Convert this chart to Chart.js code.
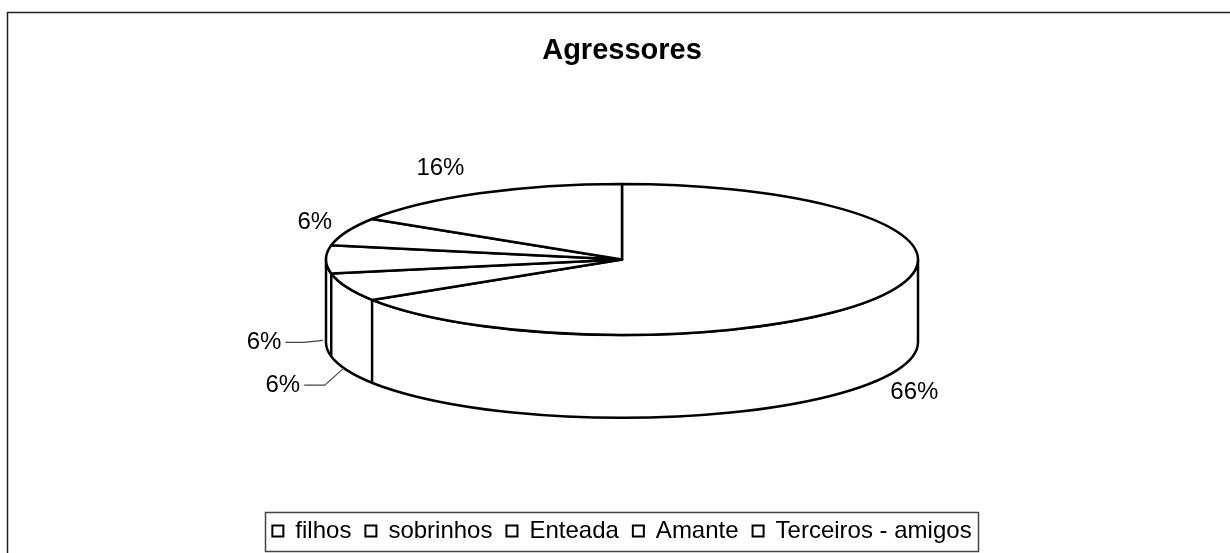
<!DOCTYPE html>
<html>
<head>
<meta charset="utf-8">
<script src="https://cdn.jsdelivr.net/npm/chart.js@4.4.1/dist/chart.umd.min.js"></script>
<style>
  html, body { margin: 0; padding: 0; background: #fff; }
  canvas { display: block; }
</style>
</head>
<body>
<canvas id="c" width="1230" height="553"></canvas>
<script>
const chartTitle = 'Agressores';
const categories = ['filhos', 'sobrinhos', 'Enteada', 'Amante', 'Terceiros - amigos'];
const shares = [66, 6, 6, 6, 16];

// deslocamento dos rótulos (px) a partir da borda da fatia, e quais têm linha de chamada
const labelShift = [[33, 14], [-64, 15], [-62, 0], [-32, -9], [-39, -25]];
const labelLeader = [false, true, true, false, false];

const FONT = 'Arial, "Liberation Sans", sans-serif';
const TILT = 0.255;   // achatamento da elipse
const DEPTH = 0.28;   // altura da lateral em relação ao raio

function geom(chart){
  const arcs = chart.getDatasetMeta(0).data;
  const a0 = arcs[0];
  const rx = a0.outerRadius, ry = rx * TILT, d = rx * DEPTH;
  return { arcs, cx: a0.x, cy: a0.y - d / 2, rx, ry, d };
}

const pie3d = {
  id: 'pie3d',
  beforeDraw(chart){
    const ctx = chart.ctx;
    ctx.save();
    ctx.fillStyle = '#fff';
    ctx.fillRect(0, 0, chart.width, chart.height);
    ctx.strokeStyle = '#222';
    ctx.lineWidth = 1.5;
    ctx.strokeRect(7.5, 12.5, chart.width + 20, chart.height + 20);
    ctx.restore();
  },
  beforeDatasetDraw(chart){
    const ctx = chart.ctx;
    const { arcs, cx, cy, rx, ry, d } = geom(chart);
    ctx.save();
    ctx.lineWidth = 2.5;
    ctx.lineJoin = 'round';
    ctx.strokeStyle = '#000';
    ctx.fillStyle = '#fff';

    // lateral (metade da frente)
    ctx.beginPath();
    ctx.moveTo(cx + rx, cy);
    ctx.ellipse(cx, cy, rx, ry, 0, 0, Math.PI, false);
    ctx.lineTo(cx - rx, cy + d);
    ctx.ellipse(cx, cy + d, rx, ry, 0, Math.PI, 0, true);
    ctx.closePath();
    ctx.fill();
    ctx.stroke();

    // divisões das fatias na lateral
    arcs.forEach(a => {
      let t = a.startAngle % (2 * Math.PI);
      if (t < 0) t += 2 * Math.PI;
      if (t > 0.01 && t < Math.PI - 0.01) {
        const x = cx + rx * Math.cos(t), y = cy + ry * Math.sin(t);
        ctx.beginPath();
        ctx.moveTo(x, y);
        ctx.lineTo(x, y + d);
        ctx.stroke();
      }
    });

    // face de cima
    arcs.forEach(a => {
      ctx.beginPath();
      ctx.moveTo(cx, cy);
      ctx.ellipse(cx, cy, rx, ry, 0, a.startAngle, a.endAngle, false);
      ctx.closePath();
      ctx.fill();
      ctx.stroke();
    });

    // rótulos
    const total = shares.reduce((s, v) => s + v, 0);
    ctx.font = '24px ' + FONT;
    ctx.fillStyle = '#000';
    ctx.textAlign = 'center';
    ctx.textBaseline = 'middle';
    arcs.forEach((a, i) => {
      const mid = (a.startAngle + a.endAngle) / 2;
      const ex = cx + rx * Math.cos(mid);
      let ey = cy + ry * Math.sin(mid);
      if (Math.sin(mid) > -0.05) ey += d;
      const lx = ex + labelShift[i][0], ly = ey + labelShift[i][1];
      const txt = Math.round(shares[i] / total * 100) + '%';
      ctx.fillText(txt, lx, ly);
      if (labelLeader[i]) {
        const w = ctx.measureText(txt).width;
        ctx.save();
        ctx.strokeStyle = '#444';
        ctx.lineWidth = 1.2;
        ctx.beginPath();
        ctx.moveTo(lx + w / 2 + 4, ly);
        ctx.lineTo(ex - 22, ly);
        ctx.lineTo(ex - 3, ey - 2);
        ctx.stroke();
        ctx.restore();
      }
    });
    ctx.restore();
    return false;
  },
  afterDraw(chart){
    const hb = chart.legend && chart.legend.legendHitBoxes;
    if (!hb || !hb.length) return;
    const ctx = chart.ctx;
    const first = hb[0], last = hb[hb.length - 1];
    const left = first.left - 7, right = last.left + last.width + 7;
    const top = first.top - 7, bottom = first.top + first.height + 8;
    ctx.save();
    ctx.strokeStyle = '#444';
    ctx.lineWidth = 1.5;
    ctx.strokeRect(Math.round(left) + 0.5, Math.round(top) + 0.5, Math.round(right - left), Math.round(bottom - top));
    ctx.restore();
  }
};

new Chart(document.getElementById('c').getContext('2d'), {
  type: 'pie',
  data: {
    labels: categories,
    datasets: [{
      data: shares,
      backgroundColor: '#fff',
      borderColor: '#000',
      borderWidth: 2,
      radius: 296
    }]
  },
  options: {
    responsive: false,
    devicePixelRatio: 1,
    animation: false,
    layout: { padding: { left: 14 } },
    plugins: {
      title: {
        display: true, text: chartTitle, color: '#000',
        font: { family: FONT, size: 29, weight: 'bold' },
        padding: { top: 34, bottom: 28 }
      },
      legend: {
        position: 'bottom',
        labels: {
          boxWidth: 11, boxHeight: 11, padding: 14, color: '#000',
          font: { family: FONT, size: 24 }
        }
      },
      tooltip: { enabled: false }
    }
  },
  plugins: [pie3d]
});
</script>
</body>
</html>
